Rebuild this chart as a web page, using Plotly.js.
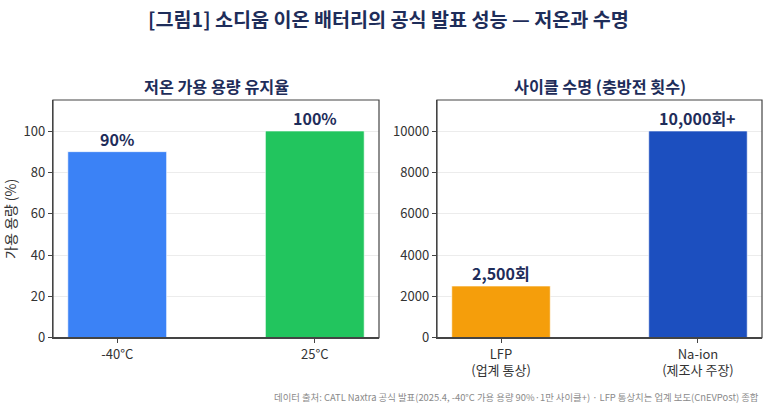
<!DOCTYPE html>
<html>
<head>
<meta charset="utf-8">
<script src="https://cdn.plot.ly/plotly-3.0.1.min.js"></script>
<style>html,body{margin:0;padding:0;background:#fff;}#chart{width:773px;height:413px;}</style>
</head>
<body>
<div id="chart"></div>
<script>
// Data
const tempCategories = ['-40°C', '25°C'];
const tempValues = [90, 100];
const tempLabels = ['90%', '100%'];
const tempColors = ['#3b82f6', '#22c55e'];

const cycleCategories = ['LFP<br>(업계 통상)', 'Na-ion<br>(제조사 주장)'];
const cycleValues = [2500, 10000];
const cycleLabels = ['2,500회', '10,000회+'];
const cycleColors = ['#f59e0b', '#1c4fbf'];

const FONT = '"Noto Sans CJK KR", "Noto Sans", sans-serif';
const NAVY = '#1e2d5a';
const W = 773, H = 413;

const traces = [
  {
    type: 'bar', x: [0, 1], y: tempValues, width: 0.5,
    marker: {color: tempColors, line: {color: 'rgba(255,255,255,0.6)', width: 1}},
    xaxis: 'x', yaxis: 'y', hoverinfo: 'none'
  },
  {
    type: 'bar', x: [0, 1], y: cycleValues, width: 0.5,
    marker: {color: cycleColors, line: {color: 'rgba(255,255,255,0.6)', width: 1}},
    xaxis: 'x2', yaxis: 'y2', hoverinfo: 'none'
  }
];

const annotations = [];
tempValues.forEach((v, i) => annotations.push({
  xref: 'x', yref: 'y', x: i, y: v, text: '<b>' + tempLabels[i] + '</b>', showarrow: false,
  xanchor: 'center', yanchor: 'bottom', yshift: -1, font: {family: FONT, size: 16, color: NAVY}
}));
cycleValues.forEach((v, i) => annotations.push({
  xref: 'x2', yref: 'y2', x: i, y: v, text: '<b>' + cycleLabels[i] + '</b>', showarrow: false,
  xanchor: 'center', yanchor: 'bottom', yshift: -1, font: {family: FONT, size: 16, color: NAVY}
}));
annotations.push({
  xref: 'paper', yref: 'paper', x: (53 + 379) / 2 / W, y: 1 - 86 / H, xanchor: 'center', yanchor: 'middle',
  text: '<b>저온 가용 용량 유지율</b>', showarrow: false, font: {family: FONT, size: 16.2, color: NAVY}
});
annotations.push({
  xref: 'paper', yref: 'paper', x: (437 + 762) / 2 / W, y: 1 - 86 / H, xanchor: 'center', yanchor: 'middle',
  text: '<b>사이클 수명 (충방전 횟수)</b>', showarrow: false, font: {family: FONT, size: 16.2, color: NAVY}
});
annotations.push({
  xref: 'paper', yref: 'paper', x: 761 / W, y: 1 - 397 / H, xanchor: 'right', yanchor: 'middle',
  text: '데이터 출처: CATL Naxtra 공식 발표(2025.4, -40°C 가용 용량 90%·1만 사이클+) · LFP 통상치는 업계 보도(CnEVPost) 종합',
  showarrow: false, font: {family: FONT, size: 9.4, color: '#8a8a8a'}
});

const baseX = {
  range: [-0.325, 1.325], tickmode: 'array', tickvals: [0, 1],
  showline: true, linecolor: '#444', linewidth: 1.2,
  ticks: 'outside', ticklen: 4, tickcolor: '#444', showgrid: false, zeroline: false,
  tickfont: {family: FONT, size: 13, color: '#333'}, fixedrange: true
};
const baseY = {
  showline: true, linecolor: '#444', linewidth: 1.2,
  ticks: 'outside', ticklen: 4, tickcolor: '#444',
  showgrid: true, gridcolor: '#ececec', gridwidth: 1, zeroline: false,
  tickfont: {family: FONT, size: 13, color: '#333'}, fixedrange: true
};
const yd = [1 - 337.7 / H, 1 - 100 / H];

const frame = (xr, yr) => ({
  type: 'rect', xref: xr + ' domain', yref: yr + ' domain', x0: 0, x1: 1, y0: 0, y1: 1,
  line: {color: '#444', width: 1.2}, fillcolor: 'rgba(0,0,0,0)', layer: 'above'
});

const layout = {
  width: W, height: H,
  margin: {l: 0, r: 0, t: 0, b: 0},
  paper_bgcolor: '#fff', plot_bgcolor: '#fff',
  showlegend: false,
  font: {family: FONT},
  title: {
    text: '<b>[그림1] 소디움 이온 배터리의 공식 발표 성능 — 저온과 수명</b>',
    x: 388.5 / W, xanchor: 'center', y: 1 - 20 / H, yanchor: 'middle', yref: 'paper',
    font: {family: FONT, size: 19.6, color: NAVY}
  },
  xaxis: Object.assign({}, baseX, {domain: [53 / W, 379 / W], anchor: 'y', ticktext: tempCategories}),
  yaxis: Object.assign({}, baseY, {domain: yd, anchor: 'x', range: [0, 115], dtick: 20,
    title: {text: '가용 용량 (%)', standoff: 8, font: {family: FONT, size: 14, color: '#333'}}}),
  xaxis2: Object.assign({}, baseX, {domain: [437 / W, 762 / W], anchor: 'y2', ticktext: cycleCategories}),
  yaxis2: Object.assign({}, baseY, {domain: yd, anchor: 'x2', range: [0, 11500], dtick: 2000, tickformat: 'd'}),
  shapes: [frame('x', 'y'), frame('x2', 'y2')],
  annotations: annotations
};

Plotly.newPlot('chart', traces, layout, {staticPlot: true, displayModeBar: false});
</script>
</body>
</html>
